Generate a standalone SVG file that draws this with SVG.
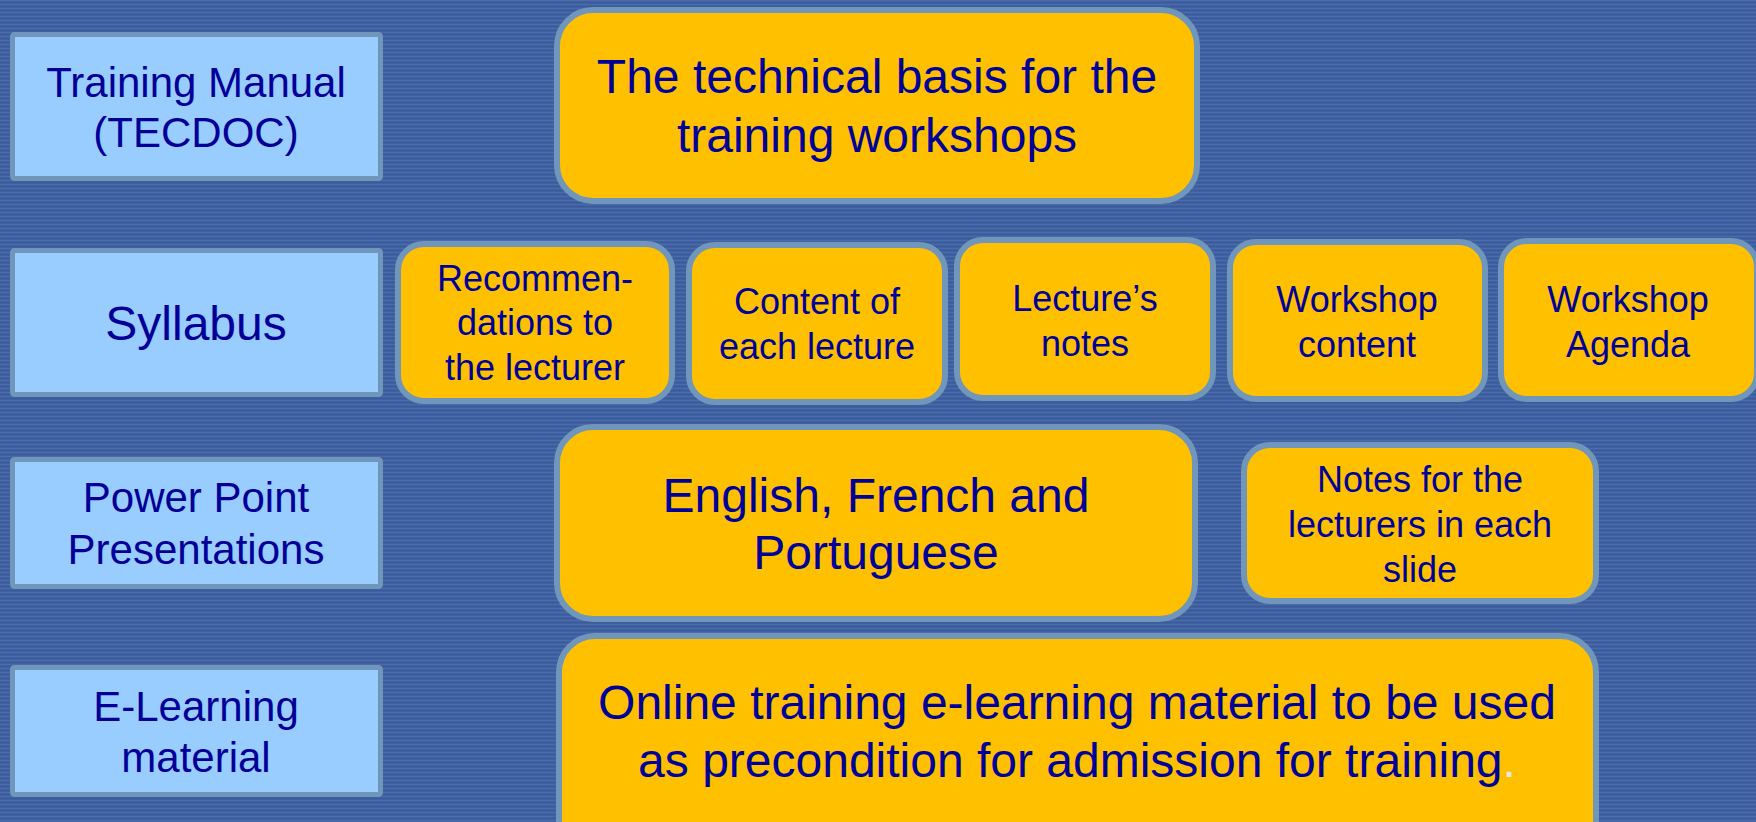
<svg xmlns="http://www.w3.org/2000/svg" width="1756" height="822" viewBox="0 0 1756 822">
<defs>
<pattern id="stripes" x="0" y="0" width="8" height="4" patternUnits="userSpaceOnUse">
<rect x="0" y="0" width="8" height="4" fill="#4061a1"/>
<rect x="0" y="0" width="8" height="1" fill="#4b6bab"/>
<rect x="0" y="2" width="8" height="1" fill="#3b5b9a"/>
</pattern>
</defs>
<style>
.cat{fill:#99ccff;stroke:#7096bc;stroke-width:5}
.item{fill:#ffc000;stroke:#7096bc;stroke-width:6}
text{font-family:"Liberation Sans",Arial,sans-serif;fill:#000099;text-anchor:middle}
.f42{font-size:42px}
.f48{font-size:48px}
.f36{font-size:36px}
</style>
<rect x="0" y="0" width="1756" height="822" fill="url(#stripes)"/>

<g id="training-manual">
<rect class="cat" x="12.5" y="34.5" width="368" height="144" rx="2"/>
<text class="f42" x="196" y="97">Training Manual</text>
<text class="f42" x="196" y="147">(TECDOC)</text>
</g>
<g id="syllabus">
<rect class="cat" x="12.5" y="250.5" width="368" height="144" rx="2"/>
<text class="f48" x="196" y="340">Syllabus</text>
</g>
<g id="power-point">
<rect class="cat" x="12.5" y="459.5" width="368" height="127" rx="2"/>
<text class="f42" x="196" y="512">Power Point</text>
<text class="f42" x="196" y="564">Presentations</text>
</g>
<g id="e-learning">
<rect class="cat" x="12.5" y="667.5" width="368" height="127" rx="2"/>
<text class="f42" x="196" y="721">E-Learning</text>
<text class="f42" x="196" y="772">material</text>
</g>

<g id="technical-basis">
<rect class="item" x="557" y="10" width="640" height="191" rx="36"/>
<text class="f48" x="877" y="93">The technical basis for the</text>
<text class="f48" x="877" y="152">training workshops</text>
</g>
<g id="recommendations">
<rect class="item" x="398" y="244" width="274" height="157" rx="26"/>
<text class="f36" x="535" y="291">Recommen-</text>
<text class="f36" x="535" y="335">dations to</text>
<text class="f36" x="535" y="380">the lecturer</text>
</g>
<g id="content-lecture">
<rect class="item" x="689" y="245" width="256" height="157" rx="26"/>
<text class="f36" x="817" y="314">Content of</text>
<text class="f36" x="817" y="359">each lecture</text>
</g>
<g id="lecture-notes">
<rect class="item" x="957" y="240" width="256" height="158" rx="26"/>
<text class="f36" x="1085" y="311">Lecture’s</text>
<text class="f36" x="1085" y="356">notes</text>
</g>
<g id="workshop-content">
<rect class="item" x="1230" y="242" width="255" height="157" rx="26"/>
<text class="f36" x="1357" y="312">Workshop</text>
<text class="f36" x="1357" y="357">content</text>
</g>
<g id="workshop-agenda">
<rect class="item" x="1501" y="241" width="256" height="158" rx="26"/>
<text class="f36" x="1628" y="312">Workshop</text>
<text class="f36" x="1628" y="357">Agenda</text>
</g>
<g id="languages">
<rect class="item" x="557" y="427" width="638" height="192" rx="36"/>
<text class="f48" x="876" y="512">English, French and</text>
<text class="f48" x="876" y="569">Portuguese</text>
</g>
<g id="lecturer-notes">
<rect class="item" x="1244" y="445" width="352" height="156" rx="26"/>
<text class="f36" x="1420" y="492">Notes for the</text>
<text class="f36" x="1420" y="537">lecturers in each</text>
<text class="f36" x="1420" y="582">slide</text>
</g>
<g id="online-training">
<rect class="item" x="559" y="636" width="1037" height="230" rx="36"/>
<text class="f48" x="1077" y="719">Online training e-learning material to be used</text>
<text class="f48" x="1077" y="777">as precondition for admission for training<tspan fill="#e6e6e6">.</tspan></text>
</g>
<g id="connectors"></g>
</svg>
